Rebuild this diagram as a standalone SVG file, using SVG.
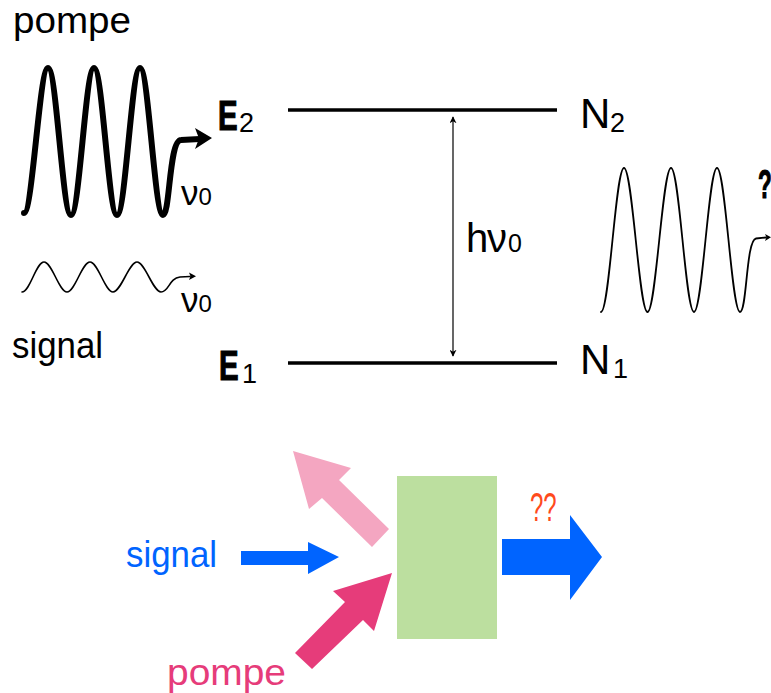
<svg xmlns="http://www.w3.org/2000/svg" width="771" height="693" viewBox="0 0 771 693">
<style>
  text { font-family: "Liberation Sans", Arial, sans-serif; fill: #000; }
  .wave { fill: none; stroke: #000; stroke-linecap: round; stroke-linejoin: round; }
  .level { stroke: #000; stroke-width: 3.5; }
  .sub { font-size: 27px; }
  .heavy { stroke: #000; stroke-width: 1.2; }
</style>
<defs>
  <marker id="ah" viewBox="0 0 10 10" refX="9" refY="5" markerWidth="7" markerHeight="7" orient="auto-start-reverse" markerUnits="userSpaceOnUse">
    <path d="M0,0 L10,5 L0,10 L3,5 Z" fill="#000"/>
  </marker>
</defs>
<rect width="771" height="693" fill="#fff"/>

<g id="pump-wave">
  <text x="13" y="33" font-size="36" textLength="118" lengthAdjust="spacingAndGlyphs">pompe</text>
  <path class="wave" stroke-width="6" d="M24,213 C32.5,213 39.5,68 48,68 C56.5,68 62.5,215 71,215 C79.5,215 85.5,68 94,68 C102.5,68 108.5,215 117,215 C125.5,215 131.5,68 140,68 C148.5,68 154.5,215 163,215 C170,215 169,140 181,140 L200,139"/>
  <path d="M212,138 L195,128 L199,138.5 L195,149 Z" fill="#000"/>
  <text x="181" y="205"><tspan font-size="35">ν</tspan><tspan font-size="24">0</tspan></text>
</g>

<g id="signal-wave">
  <path class="wave" stroke-width="1.6" d="M22,292 C30,292 36,262 44,262 C52,262 59,292 67,292 C75,292 82,262 90,262 C98,262 105,292 113,292 C121,292 129,262 137,262 C145,262 153,292 161,292 C169,292 169,278 180,277 L190,276.5"/>
  <path d="M196,276.3 L189,272.5 L190.5,276.3 L189,280 Z" fill="#000"/>
  <text x="181" y="312"><tspan font-size="35">ν</tspan><tspan font-size="24">0</tspan></text>
  <text x="12" y="358" font-size="36" textLength="91" lengthAdjust="spacingAndGlyphs">signal</text>
</g>

<g id="level-E2">
  <line class="level" x1="288" y1="110" x2="557" y2="110"/>
  <text class="heavy" transform="translate(218,129.5) scale(0.7,1)" font-size="42" font-weight="bold">E</text>
  <text x="239" y="132" class="sub">2</text>
  <text x="580" y="128" font-size="42">N</text>
  <text x="610" y="132" class="sub">2</text>
</g>

<g id="level-E1">
  <line class="level" x1="288" y1="363" x2="557" y2="363"/>
  <text class="heavy" transform="translate(219,379.5) scale(0.7,1)" font-size="42" font-weight="bold">E</text>
  <text x="242" y="383" class="sub">1</text>
  <text x="580" y="374" font-size="42">N</text>
  <text x="613" y="378" class="sub">1</text>
</g>

<g id="output-wave">
  <path class="wave" stroke-width="1.8" d="M601,312 C609.5,312 615.5,168 624,168 C632.5,168 639,312 647.5,312 C656,312 662.5,168 671,168 C679.5,168 685.5,312 694,312 C702.5,312 708.5,168 717,168 C725.5,168 731.5,312 740,312 C747,312 746,240 756,238.5 L766,237.5"/>
  <path d="M771,237.3 L765,234 L766.5,237.3 L765,241 Z" fill="#000"/>
  <text class="heavy" transform="translate(758,198) scale(0.55,1)" font-size="41" font-weight="bold">?</text>
</g>

<g id="transition">
  <text y="252" font-size="40"><tspan x="466">h</tspan><tspan x="487">ν</tspan><tspan x="508" font-size="25">0</tspan></text>
</g>

<g id="amplifier">
  <rect x="397" y="476" width="100" height="163" fill="#bcdf9f"/>
</g>

<g id="label-signal">
  <text x="126" y="567" font-size="36" style="fill:#0064ff" textLength="91" lengthAdjust="spacingAndGlyphs">signal</text>
</g>
<g id="label-pompe">
  <text x="167" y="685" font-size="36" style="fill:#e63c7a" textLength="119" lengthAdjust="spacingAndGlyphs">pompe</text>
</g>
<g id="label-output">
  <text transform="translate(530,521) scale(0.6,1)" font-size="40" style="fill:#ff4a1c">??</text>
</g>

<g id="connectors">
  <line x1="453" y1="117" x2="453" y2="356" stroke="#000" stroke-width="1.2" marker-start="url(#ah)" marker-end="url(#ah)"/>
  <polygon fill="#0064ff" points="241,551 308,551 308,542 339,557 308,574 308,565 241,565"/>
  <polygon fill="#0064ff" points="502,539 570,539 570,515 602,557 570,600 570,575 502,575"/>
  <polygon fill="#f4a6c1" points="293,451 351,468 339,480 389,529 372,547 322,498 309,509"/>
  <polygon fill="#e63c7a" points="392,573 374,631 363,620 312,669 295,653 345,602 333,591"/>
</g>
</svg>
